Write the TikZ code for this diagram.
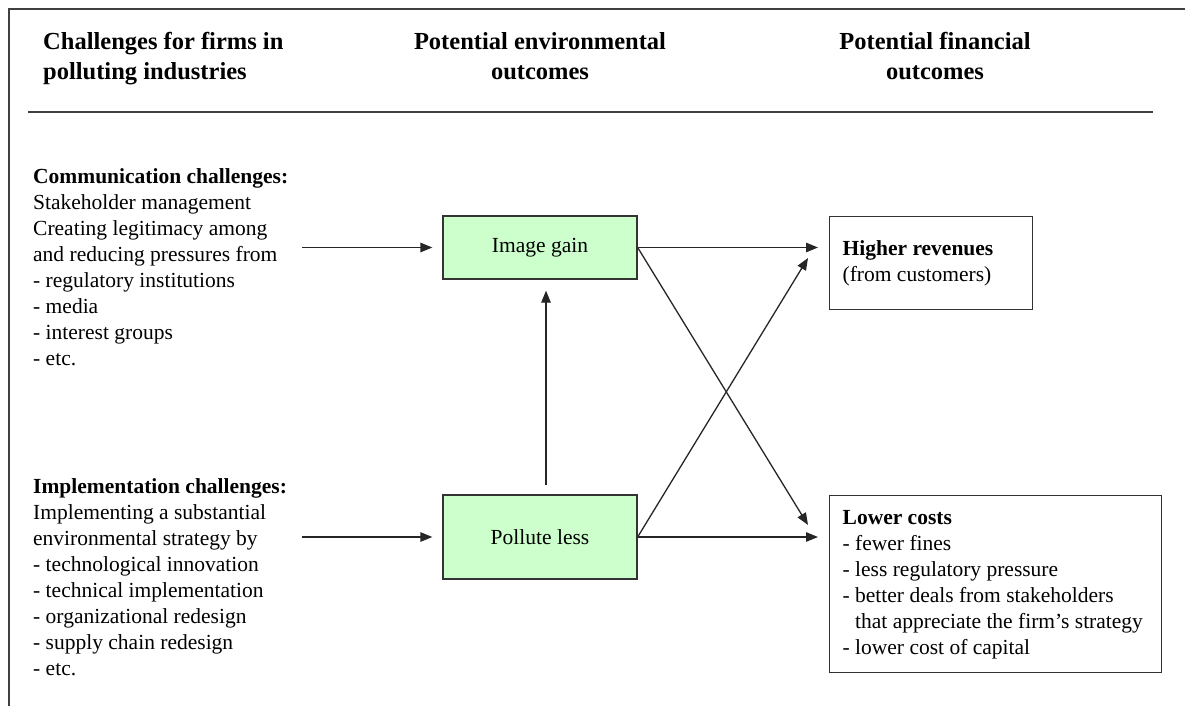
\documentclass[tikz,border=0pt]{standalone}
\usepackage{fontspec}
\setmainfont{Liberation Serif}
\usetikzlibrary{arrows.meta,calc}
\definecolor{envgreen}{HTML}{CCFFCC}
\newcommand\bodyfnt{\fontsize{21.5}{26}\selectfont}
\newcommand\headfnt{\fontsize{24.5}{30}\selectfont\bfseries}
\begin{document}
\begin{tikzpicture}[x=1pt,y=-1pt,
  framestyle/.style={draw=black!75, line width=1.6pt},
  rulestyle/.style={draw=black!75, line width=1.6pt},
  txt/.style={inner sep=0pt, font=\bodyfnt},
  head/.style={inner sep=0pt, font=\headfnt},
  outbox/.style={draw=black!80, line width=1.3pt, font=\bodyfnt},
  greenbox/.style={outbox, fill=envgreen, inner sep=0pt, minimum width=194pt},
  arr/.style={draw=black!85, line width=1.3pt, -{Triangle[length=12pt,width=9.5pt]}}
]
\useasboundingbox (0,0) rectangle (1185,706);

% frame and header rule
\draw[framestyle] (9,706) -- (9,9) -- (1185,9);
\draw[rulestyle] (28,112) -- (1153,112);

% headers
\node[head, anchor=base west] (h1) at (43,50)
  {\begin{tabular}[t]{@{}l@{}}Challenges for firms in\\polluting industries\end{tabular}};
\node[head, anchor=base] (h2) at (540,50)
  {\begin{tabular}[t]{@{}c@{}}Potential environmental\\outcomes\end{tabular}};
\node[head, anchor=base] (h3) at (935,50)
  {\begin{tabular}[t]{@{}c@{}}Potential financial\\outcomes\end{tabular}};

% left texts
\node[txt, anchor=base west] (comm) at (33,183)
  {\begin{tabular}[t]{@{}l@{}}\textbf{Communication challenges:}\\
   Stakeholder management\\
   Creating legitimacy among\\
   and reducing pressures from\\
   - regulatory institutions\\
   - media\\
   - interest groups\\
   - etc.\end{tabular}};
\node[txt, anchor=base west] (impl) at (33,493)
  {\begin{tabular}[t]{@{}l@{}}\textbf{Implementation challenges:}\\
   Implementing a substantial\\
   environmental strategy by\\
   - technological innovation\\
   - technical implementation\\
   - organizational redesign\\
   - supply chain redesign\\
   - etc.\end{tabular}};

% environmental outcome boxes
\node[greenbox, minimum height=63pt] (img) at (540,247.5) {Image gain};
\node[greenbox, minimum height=84pt] (pol) at (540,537) {Pollute less};

% financial outcome boxes
\node[outbox, anchor=north west, inner xsep=13pt, inner ysep=0pt, minimum height=93pt] (rev) at (829,216)
  {\begin{tabular}[t]{@{}p{177pt}@{}}\textbf{Higher revenues}\\(from customers)\end{tabular}};
\node[outbox, anchor=north west, inner xsep=13pt, inner ysep=0pt, minimum height=177pt] (low) at (829,495)
  {\begin{tabular}[t]{@{}p{306pt}@{}}\textbf{Lower costs}\\
   - fewer fines\\
   - less regulatory pressure\\
   - better deals from stakeholders\\
   \hphantom{-\ }that appreciate the firm's strategy\\
   - lower cost of capital\end{tabular}};

% connectors
\coordinate (commout) at (302,247.5);
\coordinate (implout) at (302,537);
\coordinate (tipA) at (808,525);
\coordinate (tipB) at (808,258);

\draw[arr, shorten >=10pt] (commout) -- (img.west);
\draw[arr, shorten >=10pt] (implout) -- (pol.west);
\draw[arr] ([xshift=6pt,yshift=9pt]pol.north) -- ([xshift=6pt,yshift=-11pt]img.south);
\draw[arr, shorten >=11pt] (img.east) -- (img.east -| rev.west);
\draw[arr, shorten >=11pt] (pol.east) -- (pol.east -| low.west);
\draw[arr] (img.east) -- (tipA);
\draw[arr] (pol.east) -- (tipB);
\end{tikzpicture}
\end{document}
